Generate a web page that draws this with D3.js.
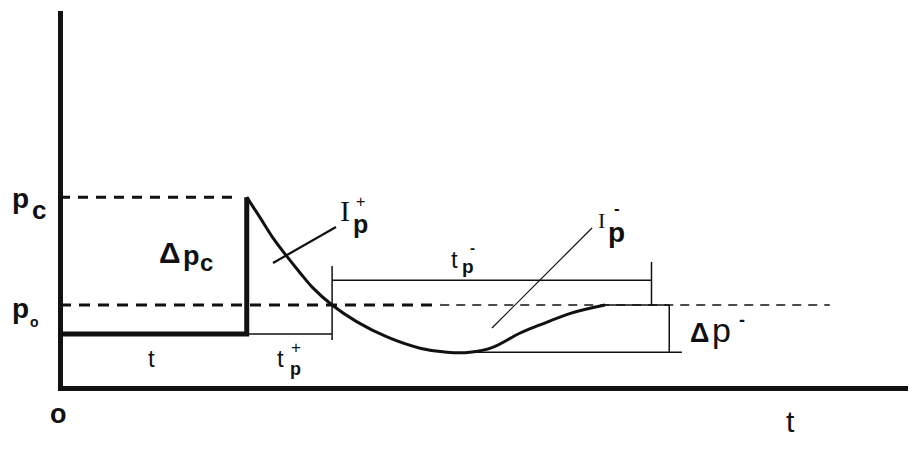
<!DOCTYPE html>
<html>
<head>
<meta charset="utf-8">
<script src="https://cdnjs.cloudflare.com/ajax/libs/d3/7.8.5/d3.min.js"></script>
<style>
  body { margin: 0; background: #fff; }
  text { font-family: "Liberation Sans", Arial, sans-serif; fill: #111; }
  .serif { font-family: "Liberation Serif", "Times New Roman", serif; }
</style>
</head>
<body>
<div id="container"></div>
<script>
const WIDTH = 913;
const HEIGHT = 453;

// pressure-time history, time in arbitrary units, pressure with p0 = 1
var curveTime = [2.21, 2.37, 2.52, 2.69, 2.84, 2.99, 3.22, 3.51, 3.87, 4.26, 4.58, 4.85, 5.12, 5.44, 5.68, 6.04, 6.45];
var curvePressure = [2.30, 2.05, 1.81, 1.58, 1.39, 1.21, 1.00, 0.80, 0.615, 0.48, 0.43, 0.43, 0.49, 0.66, 0.76, 0.90, 1.00];

var P0 = 1.0;          // ambient pressure
var PC = 2.30;         // peak pressure
var P_BEFORE = 0.65;   // level before arrival
var P_MIN = 0.43;      // lowest negative-phase pressure
var T_ARRIVAL = 2.21;
var T_POS_END = 3.22;
var T_MIN_END = 4.85;
var T_RETURN = 6.45;
var T_NEG_END = 7.0;
var T_DP_BAR = 7.21;
var T_DP_END = 7.36;
var T_PC_DASH_END = 2.04;
var T_P0_THICK_END = 4.5;
var T_P0_DASH_END = 9.11;

var x = d3.scaleLinear().domain([0, 10]).range([60, 905]);
var y = d3.scaleLinear().domain([0, 4.52]).range([388, 13]);

var svg = d3.select("#container").append("svg")
    .attr("width", WIDTH)
    .attr("height", HEIGHT);

var hline = function (t0, t1, p, width, dash) {
    svg.append("line")
        .attr("x1", x(t0)).attr("x2", x(t1))
        .attr("y1", y(p)).attr("y2", y(p))
        .attr("stroke", "#111")
        .attr("stroke-width", width)
        .attr("stroke-dasharray", dash || null);
};
var vline = function (t, p0, p1, width) {
    svg.append("line")
        .attr("x1", x(t)).attr("x2", x(t))
        .attr("y1", y(p0)).attr("y2", y(p1))
        .attr("stroke", "#111")
        .attr("stroke-width", width);
};

// reference dashed levels
hline(0, T_PC_DASH_END, PC, 3, "10,8");
hline(0, T_P0_THICK_END, P0, 3, "11,8");
hline(T_P0_THICK_END, T_P0_DASH_END, P0, 1.5, "9,7");

// dimension lines
hline(T_ARRIVAL, T_POS_END, P_BEFORE, 1.5);
vline(T_POS_END, P_BEFORE - 0.07, P0 + 0.47, 1.5);
hline(T_POS_END, T_NEG_END, P0 + 0.30, 1.5);
vline(T_NEG_END, P0, P0 + 0.52, 1.5);
hline(T_RETURN, T_DP_BAR, P0, 1.5);
hline(T_MIN_END, T_DP_END, P_MIN, 1.5);
vline(T_DP_BAR, P0, P_MIN, 1.5);

// leader lines
svg.append("line").attr("x1", 273).attr("y1", 263).attr("x2", 336).attr("y2", 227)
    .attr("stroke", "#111").attr("stroke-width", 2.2);
svg.append("line").attr("x1", 492).attr("y1", 328).attr("x2", 592).attr("y2", 228)
    .attr("stroke", "#111").attr("stroke-width", 1.2);

// the pulse: flat level, jump to peak, decay through negative phase
var pulse = [{t: 0, p: P_BEFORE}, {t: T_ARRIVAL, p: P_BEFORE}, {t: T_ARRIVAL, p: PC}];
svg.append("path")
    .attr("d", d3.line().x(d => x(d.t)).y(d => y(d.p))(pulse))
    .attr("fill", "none").attr("stroke", "#111").attr("stroke-width", 5)
    .attr("stroke-linejoin", "miter");

var curvePts = curveTime.map((t, i) => ({t: t, p: curvePressure[i]}));
svg.append("path")
    .attr("d", d3.line().x(d => x(d.t)).y(d => y(d.p)).curve(d3.curveCatmullRom.alpha(0.5))(curvePts))
    .attr("fill", "none").attr("stroke", "#111").attr("stroke-width", 3);

// axes
svg.append("g").attr("transform", "translate(0," + y(0) + ")")
    .call(d3.axisBottom(x).tickValues([]).tickSizeOuter(0));
svg.append("g").attr("transform", "translate(" + x(0) + ",0)")
    .call(d3.axisLeft(y).tickValues([]).tickSizeOuter(0));
svg.selectAll(".domain").attr("stroke", "#111").attr("stroke-width", 5)
    .attr("stroke-linecap", "square");

// labels
var label = function (tx, ty, text, size, weight, cls) {
    return svg.append("text").attr("x", tx).attr("y", ty).text(text)
        .attr("font-size", size)
        .attr("font-weight", weight || "normal")
        .attr("class", cls || null);
};

label(12, 208, "p", 28, "bold");
label(32, 219, "c", 26, "bold");
label(12, 318, "p", 28, "bold");
label(30, 327, "o", 14, "bold");

label(159, 263, "Δ", 30, "bold");
label(183, 265, "p", 27, "bold");
label(200, 271, "c", 24, "bold");

label(148, 367, "t", 24);
label(277, 367, "t", 24);
label(291, 353, "+", 17);
label(290, 375, "p", 18, "bold");

label(340, 221, "I", 30, "normal", "serif");
label(356, 207, "+", 16);
label(353, 233, "p", 25, "bold");

label(598, 228, "I", 22, "normal", "serif");
label(614, 214, "-", 17, "bold");
label(608, 242, "p", 28, "bold");

label(451, 268, "t", 24);
label(470, 253, "-", 15, "bold");
label(462, 273, "p", 19, "bold");

label(690, 342, "Δ", 27, "bold");
label(712, 342, "p", 34);
label(739, 326, "-", 18, "bold");

label(50, 423, "o", 27, "bold");
label(786, 432, "t", 30);
</script>
</body>
</html>
